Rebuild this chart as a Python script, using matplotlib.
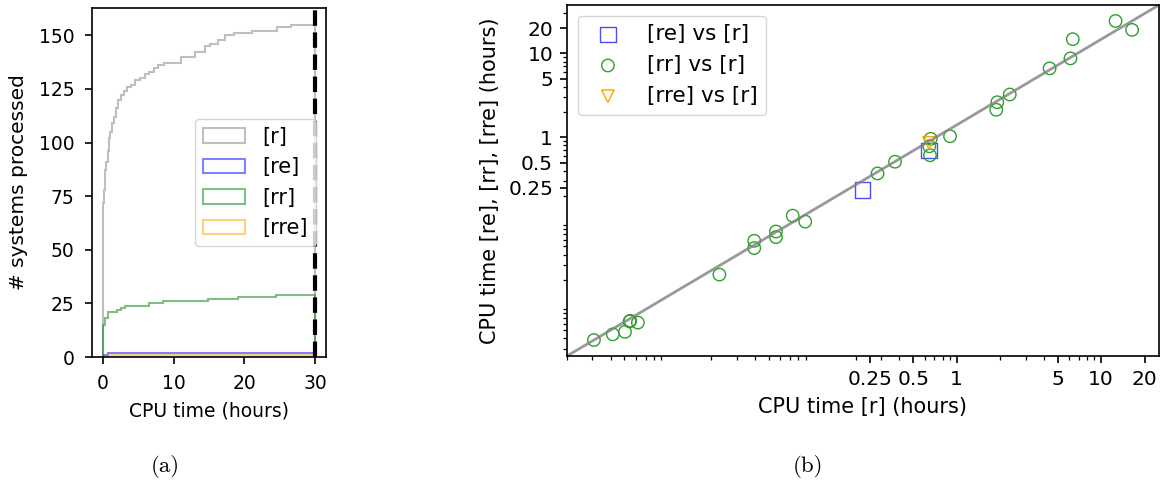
import matplotlib
matplotlib.use('Agg')
from matplotlib import pyplot as plt
from matplotlib.ticker import NullFormatter
from matplotlib.patches import StepPatch
from matplotlib.legend_handler import HandlerPatch

# (a) cumulative number of systems processed vs CPU time (hours)
r_edges = [0, 0.05, 0.1, 0.2, 0.3, 0.4, 0.5, 0.7, 0.9, 1.1, 1.3, 1.6, 1.9, 2.2, 2.6,
           3.0, 3.5, 4.0, 4.6, 5.3, 6.0, 6.6, 7.2, 7.8, 8.6, 11.0, 13.0, 14.5, 15.2,
           16.3, 17.3, 18.5, 21.0, 24.6, 26.5, 30.0]
r_counts = [60, 66, 72, 78, 83, 87, 91, 96, 102, 105, 109, 112, 116, 120, 122,
            124, 126, 127, 129, 130, 132, 133, 135, 136, 137, 140, 142, 145, 146,
            148, 150, 151, 152, 154, 155]
re_edges = [0, 0.235, 0.70, 30.0]
re_counts = [0, 1, 2]
rr_edges = [0, 0.3, 0.8, 2.0, 2.6, 3.2, 6.6, 8.5, 14.9, 19.1, 24.5, 30.0]
rr_counts = [15, 18, 21, 22, 23, 24, 25, 26, 27, 28, 29]
rre_edges = [0, 0.85, 30.0]
rre_counts = [0, 1]
time_limit = 30

# (b) per-system CPU time (hours): x = [r], y = other variant
re_x = [0.223, 0.643]
re_y = [0.235, 0.701]
rr_x = [0.00307, 0.00415, 0.00504, 0.00542, 0.00548, 0.00619, 0.0227, 0.0396, 0.0396,
        0.056, 0.056, 0.0731, 0.0893, 0.283, 0.374, 0.661, 0.653, 0.646, 0.899,
        1.88, 1.91, 2.33, 4.40, 6.14, 6.37, 12.6, 16.4]
rr_y = [0.00383, 0.00448, 0.0048, 0.00639, 0.0065, 0.00618, 0.0231, 0.0584, 0.0478,
        0.0753, 0.0646, 0.1165, 0.0989, 0.371, 0.512, 0.96, 0.611, 0.782, 1.03,
        2.13, 2.62, 3.24, 6.64, 8.73, 14.8, 24.4, 19.1]
rre_x = [0.643]
rre_y = [0.86]
log_ticks = [0.25, 0.5, 1, 5, 10, 20]
log_labels = ['0.25', '0.5', '1', '5', '10', '20']

plt.rcParams['axes.linewidth'] = 1.2
plt.rcParams['xtick.major.width'] = 1.2
plt.rcParams['ytick.major.width'] = 1.2
plt.rcParams['xtick.minor.width'] = 0.9
plt.rcParams['ytick.minor.width'] = 0.9
plt.rcParams['xtick.major.size'] = 5
plt.rcParams['ytick.major.size'] = 5
plt.rcParams['xtick.minor.size'] = 3
plt.rcParams['ytick.minor.size'] = 3
plt.rcParams['xtick.major.pad'] = 5
plt.rcParams['ytick.major.pad'] = 5
plt.rcParams['axes.labelpad'] = 6

W, H = 1173, 486
fig = plt.figure(figsize=(W / 100, H / 100), dpi=100)

ax1 = fig.add_axes([92 / W, 1 - 357 / H, 234 / W, 349 / H])
ax1.stairs(r_counts, r_edges, color='gray', alpha=0.5, lw=1.5, label='[r]')
ax1.stairs(re_counts, re_edges, color='blue', alpha=0.5, lw=1.5, label='[re]')
ax1.stairs(rr_counts, rr_edges, color='green', alpha=0.5, lw=1.5, label='[rr]')
ax1.stairs(rre_counts, rre_edges, color='orange', alpha=0.5, lw=1.5, label='[rre]')
ax1.axvline(time_limit, color='k', ls='--', lw=3)
ax1.set_xticks([0, 10, 20, 30])
ax1.set_yticks([0, 25, 50, 75, 100, 125, 150])
ax1.tick_params(labelsize=13.5, pad=7.5)
ax1.set_xlabel('CPU time (hours)', fontsize=13.5)
ax1.set_ylabel('# systems processed', fontsize=14.5, labelpad=8)
# hist-style legend: unfilled boxes
ax1.legend(loc='center right', fontsize=15, handler_map={StepPatch: HandlerPatch()})

ax2 = fig.add_axes([567 / W, 1 - 356 / H, 592 / W, 351 / H])
ax2.set_xscale('log')
ax2.set_yscale('log')
ax2.scatter(re_x, re_y, marker='s', s=120, facecolors='none', edgecolors='blue',
            alpha=0.7, label='[re] vs [r]')
ax2.scatter(rr_x, rr_y, marker='o', s=80, facecolors='none', edgecolors='tab:green',
            label='[rr] vs [r]')
ax2.scatter(rre_x, rre_y, marker='v', s=80, facecolors='none', edgecolors='orange',
            label='[rre] vs [r]')
ax2.plot([0, 1], [0, 1], transform=ax2.transAxes, color='gray', alpha=0.8, lw=2)
ax2.set_xticks(log_ticks, labels=log_labels)
ax2.set_yticks(log_ticks, labels=log_labels)
ax2.xaxis.set_minor_formatter(NullFormatter())
ax2.yaxis.set_minor_formatter(NullFormatter())
ax2.tick_params(labelsize=14.5)
ax2.set_xlabel('CPU time [r] (hours)', fontsize=15)
ax2.set_ylabel('CPU time [re], [rr], [rre] (hours)', fontsize=15)
ax2.legend(loc='upper left', fontsize=15.5)

fig.text(165 / W, 1 - 466 / H, '(a)', ha='center', va='center', family='cmr10', fontsize=16.5)
fig.text(808 / W, 1 - 466 / H, '(b)', ha='center', va='center', family='cmr10', fontsize=16.5)

fig.savefig('out.png', dpi=100)
